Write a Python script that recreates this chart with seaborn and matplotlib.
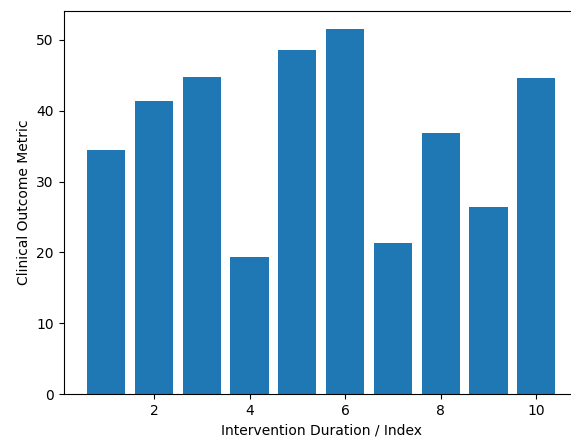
import matplotlib
matplotlib.use("Agg")
import matplotlib.pyplot as plt
import seaborn as sns
import pandas as pd

x_index = [1, 2, 3, 4, 5, 6, 7, 8, 9, 10]
outcome = [34.45, 41.4, 44.7, 19.4, 48.5, 51.55, 21.3, 36.8, 26.4, 44.55]

df = pd.DataFrame({"x": x_index, "y": outcome})

W, H = 571, 443
fig = plt.figure(figsize=(W / 100, H / 100), dpi=100)
ax = fig.add_axes([63.6 / W, (H - 394.3) / H, (578.8 - 63.6) / W, (394.3 - 10.7) / H])
sns.barplot(data=df, x="x", y="y", native_scale=True, color="#1f77b4",
            saturation=1, width=0.8, linewidth=0, errorbar=None, ax=ax)
ax.set_xlim(0.11, 10.89)
ax.set_ylim(0, 54.1)
ax.set_xticks([2, 4, 6, 8, 10])
ax.set_yticks([0, 10, 20, 30, 40, 50])
ax.set_xlabel("Intervention Duration / Index")
ax.set_ylabel("Clinical Outcome Metric")
fig.savefig("out.png", dpi=100)
